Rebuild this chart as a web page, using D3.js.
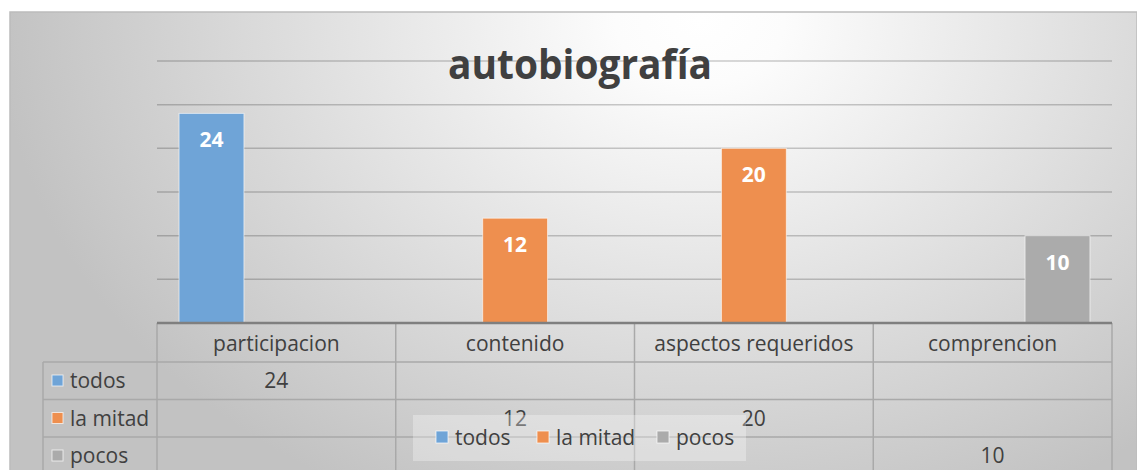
<!DOCTYPE html>
<html lang="es">
<head>
<meta charset="UTF-8">
<title>autobiografía</title>
<script src="https://d3js.org/d3.v7.min.js"></script>
<style>
  body { margin: 0; background: #fff; }
  svg { display: block; font-family: "Open Sans", "DejaVu Sans", sans-serif; }
</style>
</head>
<body>
<svg id="chart" width="1137" height="470"></svg>
<script>
// datos del grafico
const categories = ["participacion", "contenido", "aspectos requeridos", "comprencion"];
const seriesNames = ["todos", "la mitad", "pocos"];
const todos = [24, null, null, null];
const laMitad = [null, 12, 20, null];
const pocos = [null, null, null, 10];
const yTicks = [0, 5, 10, 15, 20, 25, 30];

const seriesValues = [todos, laMitad, pocos];
const colors = ["#6fa4d7", "#ee8f4f", "#ababab"];
const textSize = 21;

const svg = d3.select("#chart");
const W = 1137, H = 470;

// fondo con degradado radial (eliptico)
const defs = svg.append("defs");
const grad = defs.append("radialGradient")
    .attr("id", "bg")
    .attr("gradientUnits", "userSpaceOnUse")
    .attr("cx", 700).attr("cy", 20).attr("r", 540)
    .attr("gradientTransform", "translate(700,20) scale(1.3,1) translate(-700,-20)");
grad.append("stop").attr("offset", "0").attr("stop-color", "#ffffff");
grad.append("stop").attr("offset", "0.12").attr("stop-color", "#fcfcfc");
grad.append("stop").attr("offset", "1").attr("stop-color", "#c2c2c2");

svg.append("rect")
    .attr("x", 10).attr("y", 12)
    .attr("width", W - 10).attr("height", H)
    .attr("fill", "url(#bg)")
    .attr("stroke", "#bcbcbc").attr("stroke-width", 1.5);

// area de trazado
const plotLeft = 157, plotRight = 1112, plotTop = 61, axisY = 323;

const x = d3.scaleBand()
    .domain(categories)
    .range([plotLeft, plotRight])
    .paddingInner(0).paddingOuter(0);

const xSub = d3.scaleBand()
    .domain(seriesNames)
    .range([0, x.bandwidth()])
    .paddingOuter(0.34).paddingInner(0);

const y = d3.scaleLinear().domain([0, 30]).range([axisY, plotTop]);

// lineas de cuadricula
svg.append("g")
    .selectAll("line")
    .data(yTicks.filter(d => d > 0))
    .enter().append("line")
    .attr("x1", plotLeft).attr("x2", plotRight)
    .attr("y1", d => y(d)).attr("y2", d => y(d))
    .attr("stroke", "rgba(0,0,0,0.2)")
    .attr("stroke-width", 1.5);

// barras
const flat = [];
seriesValues.forEach((vals, si) => {
    vals.forEach((v, ci) => {
        if (v !== null) flat.push({ s: seriesNames[si], si: si, c: categories[ci], v: v });
    });
});

svg.append("g")
    .selectAll("rect")
    .data(flat)
    .enter().append("rect")
    .attr("x", d => x(d.c) + xSub(d.s))
    .attr("y", d => y(d.v))
    .attr("width", xSub.bandwidth())
    .attr("height", d => y(0) - y(d.v))
    .attr("fill", d => colors[d.si])
    .attr("stroke", "rgba(255,255,255,0.6)")
    .attr("stroke-width", 1);

// etiquetas de datos
svg.append("g")
    .selectAll("text")
    .data(flat)
    .enter().append("text")
    .attr("x", d => x(d.c) + xSub(d.s) + xSub.bandwidth() / 2)
    .attr("y", d => y(d.v) + 34)
    .attr("text-anchor", "middle")
    .attr("fill", "#ffffff")
    .attr("font-weight", "bold")
    .attr("font-size", 21)
    .text(d => d.v);

// titulo
svg.append("text")
    .attr("x", 580).attr("y", 79)
    .attr("text-anchor", "middle")
    .attr("fill", "#404040")
    .attr("font-weight", "bold")
    .attr("font-size", 42)
    .attr("textLength", 264)
    .attr("lengthAdjust", "spacingAndGlyphs")
    .text("autobiografía");

// tabla de datos
const rowH = 37.5;
const headerBottom = 362;
const tableLeft = 43;
const rowY = i => headerBottom + i * rowH;
const grid = svg.append("g").attr("stroke", "#a9a9a9").attr("stroke-width", 1.5);

// filas horizontales
[0, 1, 2, 3].forEach(i => {
    grid.append("line")
        .attr("x1", tableLeft).attr("x2", plotRight)
        .attr("y1", rowY(i)).attr("y2", rowY(i));
});
// columnas verticales
categories.forEach(c => {
    grid.append("line")
        .attr("x1", x(c)).attr("x2", x(c))
        .attr("y1", axisY).attr("y2", H);
});
grid.append("line")
    .attr("x1", plotRight).attr("x2", plotRight)
    .attr("y1", axisY).attr("y2", H);
grid.append("line")
    .attr("x1", tableLeft).attr("x2", tableLeft)
    .attr("y1", headerBottom).attr("y2", H);

// eje
svg.append("line")
    .attr("x1", plotLeft).attr("x2", plotRight)
    .attr("y1", axisY).attr("y2", axisY)
    .attr("stroke", "#7f7f7f").attr("stroke-width", 2.5);

// encabezados de categoria
svg.append("g")
    .selectAll("text")
    .data(categories)
    .enter().append("text")
    .attr("x", d => x(d) + x.bandwidth() / 2)
    .attr("y", 351)
    .attr("text-anchor", "middle")
    .attr("fill", "#404040")
    .attr("font-size", textSize)
    .text(d => d);

// nombres de series con clave
seriesNames.forEach((s, si) => {
    svg.append("rect")
        .attr("x", 52).attr("y", rowY(si) + 13)
        .attr("width", 11).attr("height", 11)
        .attr("fill", colors[si])
        .attr("stroke", "rgba(255,255,255,0.7)");
    svg.append("text")
        .attr("x", 70).attr("y", rowY(si) + 26)
        .attr("fill", "#404040")
        .attr("font-size", textSize)
        .text(s);
});

// valores en la tabla
svg.append("g")
    .selectAll("text")
    .data(flat)
    .enter().append("text")
    .attr("x", d => x(d.c) + x.bandwidth() / 2)
    .attr("y", d => rowY(d.si) + 26)
    .attr("text-anchor", "middle")
    .attr("fill", "#404040")
    .attr("font-size", textSize)
    .text(d => d.v);

// leyenda superpuesta
const legend = svg.append("g");
legend.append("rect")
    .attr("x", 413).attr("y", 415)
    .attr("width", 333).attr("height", 46)
    .attr("fill", "rgba(255,255,255,0.3)");
const legendX = [436, 537, 657];
seriesNames.forEach((s, si) => {
    legend.append("rect")
        .attr("x", legendX[si]).attr("y", 431)
        .attr("width", 12).attr("height", 12)
        .attr("fill", colors[si])
        .attr("stroke", "rgba(255,255,255,0.7)");
    legend.append("text")
        .attr("x", legendX[si] + 19).attr("y", 445)
        .attr("fill", "#404040")
        .attr("font-size", textSize)
        .text(s);
});
</script>
</body>
</html>
